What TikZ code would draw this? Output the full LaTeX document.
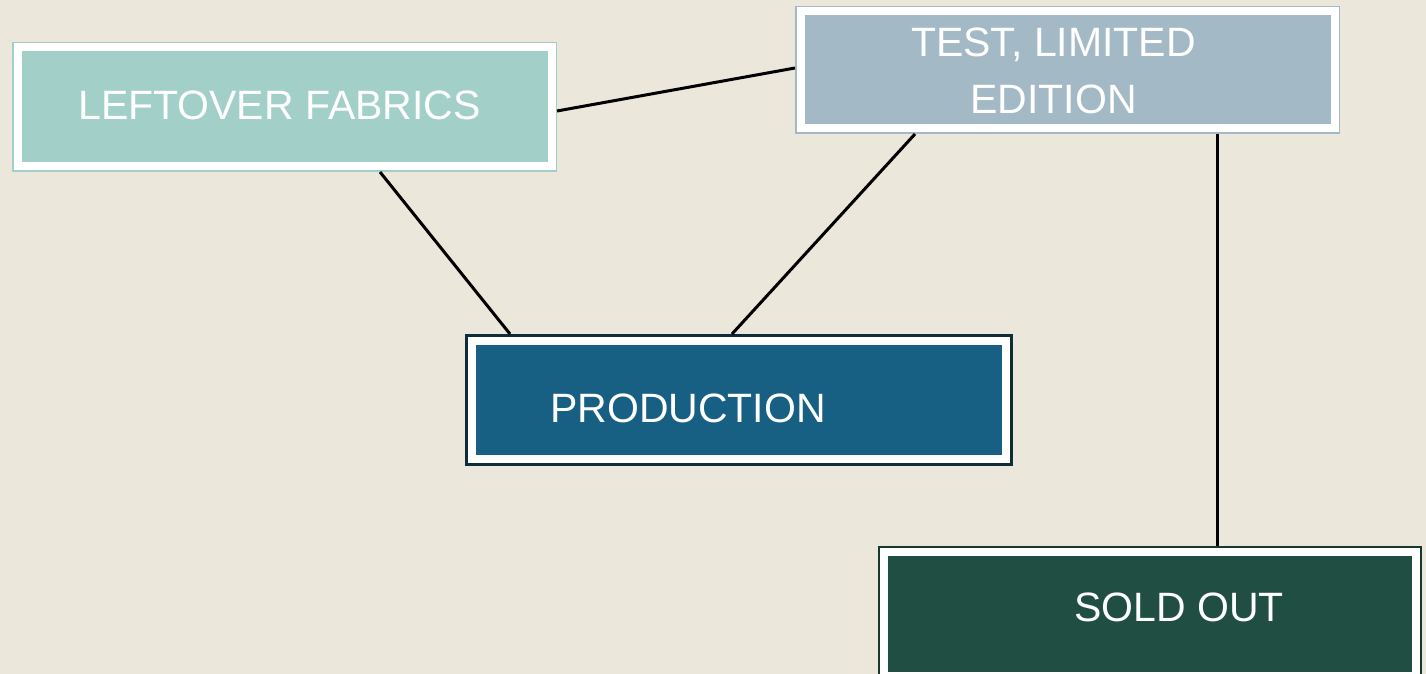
\documentclass[tikz,border=0pt]{standalone}
\usepackage{fontspec}
\setmainfont{Liberation Sans}
\definecolor{paper}{HTML}{EBE7DA}
\definecolor{mint}{HTML}{A2D0C9}
\definecolor{slate}{HTML}{A3BAC6}
\definecolor{petrol}{HTML}{176083}
\definecolor{petrolrim}{HTML}{0E2C3A}
\definecolor{pine}{HTML}{214E42}
\definecolor{pinerim}{HTML}{16382F}

\begin{document}
\begin{tikzpicture}[x=0.5pt,y=-0.5pt,
  box/.style 2 args={fill=#2,draw=white,line width=4pt,preaction={draw=#1,line width=5.5pt},outer sep=2.75pt,minimum width=267pt,minimum height=59.5pt},
  tag/.style={text=white,font=\fontsize{20.5}{28.5}\selectfont,align=center},
  link/.style={line width=1.5pt}]
\clip (0,0) rectangle (1426,674);
\fill[paper] (0,0) rectangle (1426,674);
\node[box={mint}{mint}] (leftover) at (284.5,107) {};
\node[box={slate}{slate},minimum height=58.5pt] (test) at (1067.5,70) {};
\node[box={petrolrim}{petrol},preaction={draw=petrolrim,line width=7pt},outer sep=3.5pt,minimum height=59pt] (prod) at (739,400) {};
\node[box={pinerim}{pine},preaction={draw=pinerim,line width=6pt},outer sep=3pt,minimum width=266pt,minimum height=62pt] (sold) at (1150,614) {};
\node[tag] (leftovertxt) at (279.5,105) {LEFTOVER FABRICS};
\node[tag] (testtxt) at (1053.5,70.5) {TEST, LIMITED\\EDITION};
\node[tag] (prodtxt) at (688,408) {PRODUCTION};
\node[tag] (soldtxt) at (1179,607) {SOLD OUT};
\draw[link] ([yshift=-2pt]leftover.east) -- ([yshift=1pt]test.west);
\draw[link] ([xshift=47.75pt]leftover.south) -- ([xshift=-114.5pt]prod.north);
\draw[link] ([xshift=-76.25pt]test.south) -- ([xshift=-3.5pt]prod.north);
\draw[link] ([xshift=74.75pt]test.south) -- ([xshift=33.5pt]sold.north);
\end{tikzpicture}
\end{document}
